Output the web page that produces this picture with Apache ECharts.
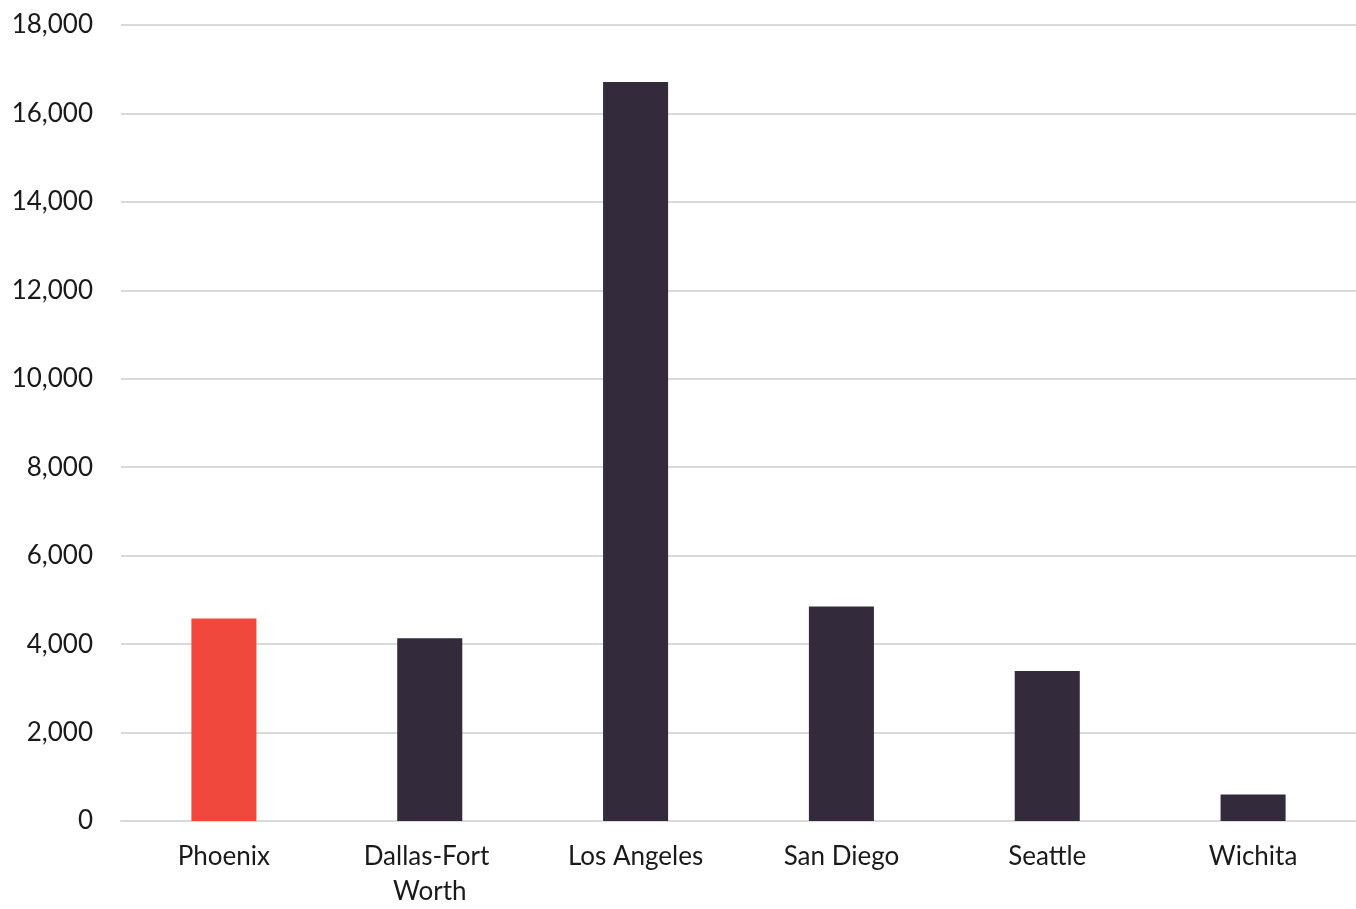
<!DOCTYPE html>
<html>
<head>
<meta charset="utf-8">
<script src="https://cdn.jsdelivr.net/npm/echarts@6/dist/echarts.min.js"></script>
<style>
  html, body { margin: 0; padding: 0; background: #ffffff; }
  #chart { width: 1356px; height: 909px; }
</style>
</head>
<body>
<div id="chart"></div>
<script>
const cities = ['Phoenix', 'Dallas-Fort Worth', 'Los Angeles', 'San Diego', 'Seattle', 'Wichita'];
const values = [4580, 4130, 16710, 4850, 3390, 600];
const highlightCity = 'Phoenix';

const accent = '#F0483C';
const base = '#332B3C';

const chart = echarts.init(document.getElementById('chart'));
chart.setOption({
  animation: false,
  grid: { left: 121, right: 0, top: 25, bottom: 82, containLabel: false },
  xAxis: {
    type: 'category',
    data: cities,
    axisLine: { show: true, lineStyle: { color: '#d9d9d9', width: 2 } },
    axisTick: { show: false },
    axisLabel: {
      color: '#1a1a1a',
      fontFamily: 'Lato',
      fontSize: 26,
      lineHeight: 35,
      margin: 18,
      width: 180,
      overflow: 'break',
      interval: 0
    }
  },
  yAxis: {
    type: 'value',
    min: 0,
    max: 18000,
    interval: 2000,
    axisLine: { show: false },
    axisTick: { show: false },
    splitLine: { lineStyle: { color: '#d9d9d9', width: 2 } },
    axisLabel: {
      color: '#1a1a1a',
      fontFamily: 'Lato',
      fontSize: 26,
      margin: 28,
      formatter: v => v.toLocaleString('en-US')
    }
  },
  series: [{
    type: 'bar',
    barWidth: '31.6%',
    data: cities.map((c, i) => ({
      value: values[i],
      itemStyle: { color: c === highlightCity ? accent : base }
    }))
  }]
});
</script>
</body>
</html>
